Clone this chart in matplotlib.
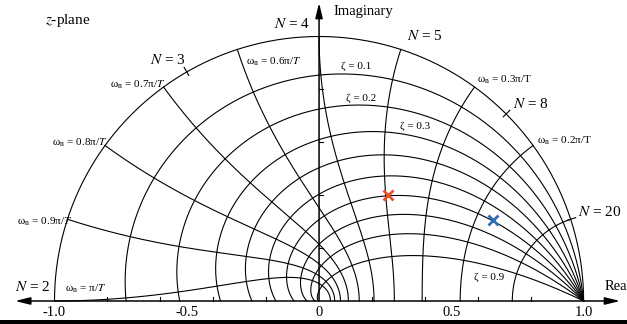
import numpy as np
import matplotlib
matplotlib.use('Agg')
import matplotlib.pyplot as plt
import matplotlib.patches as patches

plt.rcParams['font.family'] = ['Liberation Serif', 'DejaVu Serif']
plt.rcParams['mathtext.fontset'] = 'stix'

# grid values
ZETAS = [0.1, 0.2, 0.3, 0.4, 0.5, 0.6, 0.7, 0.8, 0.9]
WN_FRACS = [0.1, 0.2, 0.3, 0.4, 0.5, 0.6, 0.7, 0.8, 0.9, 1.0]   # wn*T / pi
N_TICKS = [3, 8, 20]          # extra ticks on unit circle (samples per cycle)

# axis tick labels
XTICK_POS = [-1.0, -0.5, 0.0, 0.5, 1.0]
XTICK_LBL = ['-1.0', '-0.5', '0', '0.5', '1.0']
MINOR_X = [-0.8, -0.6, -0.4, -0.2, 0.2, 0.4, 0.6, 0.8]
MINOR_Y = [0.2, 0.4, 0.6, 0.8]

# poles
RED_POLE = (0.261, 0.402)
BLUE_POLE = (0.659, 0.307)

LW = 0.8

fig = plt.figure(figsize=(6.27, 3.24), dpi=100)
ax = fig.add_axes([0, 0, 1, 1])
ax.axis('off')
ax.set_xlim(-1.206, 1.164)
ax.set_ylim(-0.087, 1.138)
ax.set_aspect('equal', adjustable='datalim')

# unit circle (upper half)
th = np.linspace(0, np.pi, 400)
ax.plot(np.cos(th), np.sin(th), color='black', lw=LW)

# constant zeta curves
for z in ZETAS:
    wd = np.linspace(0, np.pi, 400)
    r = np.exp(-z / np.sqrt(1 - z ** 2) * wd)
    ax.plot(r * np.cos(wd), r * np.sin(wd), color='black', lw=LW)

# constant wn curves
for f in WN_FRACS:
    zz = np.linspace(0, 1, 400)
    wn = f * np.pi
    r = np.exp(-zz * wn)
    ang = wn * np.sqrt(1 - zz ** 2)
    ax.plot(r * np.cos(ang), r * np.sin(ang), color='black', lw=LW)

# N ticks on unit circle
for n in N_TICKS:
    a = 2 * np.pi / n
    ax.plot([0.985 * np.cos(a), 1.02 * np.cos(a)], [0.985 * np.sin(a), 1.02 * np.sin(a)],
            color='black', lw=LW)

# axes with arrows
arr = dict(arrowstyle='<|-|>,head_length=0.9,head_width=0.22', color='black', lw=1.1,
           shrinkA=0, shrinkB=0)
ax.annotate('', xy=(1.138, 0), xytext=(-1.149, 0), arrowprops=arr)
arr1 = dict(arr, arrowstyle='-|>,head_length=0.9,head_width=0.22')
ax.annotate('', xy=(0, 1.127), xytext=(0, 0), arrowprops=arr1)

for x in MINOR_X:
    ax.plot([x, x], [0, 0.016], color='black', lw=LW)
for y in MINOR_Y:
    ax.plot([0, 0.016], [y, y], color='black', lw=LW)

for x, s in zip(XTICK_POS, XTICK_LBL):
    ax.text(x, -0.045, s, ha='center', va='center', fontsize=10.5)

# poles
ax.plot(*RED_POLE, marker='x', color='#E8522B', ms=7, mew=2, ls='none')
ax.plot(*BLUE_POLE, marker='x', color='#2F6DB5', ms=7, mew=2, ls='none')

# labels
big = 11
small = 8
ax.text(-1.036, 1.062, '$z$-plane', ha='left', va='center', fontsize=big)
ax.text(0.053, 1.093, 'Imaginary', ha='left', va='center', fontsize=10.5)
ax.text(1.081, 0.053, 'Real', ha='left', va='center', fontsize=10.5)

ax.text(-0.034, 1.047, '$N$ = 4', ha='right', va='center', fontsize=big)
ax.text(-0.573, 0.911, '$N$ = 3', ha='center', va='center', fontsize=big)
ax.text(-1.149, 0.053, '$N$ = 2', ha='left', va='center', fontsize=big)
ax.text(0.333, 1.002, '$N$ = 5', ha='left', va='center', fontsize=big)
ax.text(0.733, 0.745, '$N$ = 8', ha='left', va='center', fontsize=big)
ax.text(0.979, 0.336, '$N$ = 20', ha='left', va='center', fontsize=big)

ax.text(-0.276, 0.904, 'ω$_\\mathrm{n}$ = 0.6π/$T$', ha='left', va='center', fontsize=small)
ax.text(-0.582, 0.817, 'ω$_\\mathrm{n}$ = 0.7π/$T$', ha='right', va='center', fontsize=small)
ax.text(-0.800, 0.597, 'ω$_\\mathrm{n}$ = 0.8π/$T$', ha='right', va='center', fontsize=small)
ax.text(-0.934, 0.299, 'ω$_\\mathrm{n}$ = 0.9π/$T$', ha='right', va='center', fontsize=small)
ax.text(-0.960, 0.045, 'ω$_\\mathrm{n}$ = π/$T$', ha='left', va='center', fontsize=small)
ax.text(0.597, 0.836, 'ω$_\\mathrm{n}$ = 0.3π/T', ha='left', va='center', fontsize=small)
ax.text(0.824, 0.605, 'ω$_\\mathrm{n}$ = 0.2π/T', ha='left', va='center', fontsize=small)

ax.text(0.140, 0.888, 'ζ = 0.1', ha='center', va='center', fontsize=small)
ax.text(0.159, 0.767, 'ζ = 0.2', ha='center', va='center', fontsize=small)
ax.text(0.363, 0.662, 'ζ = 0.3', ha='center', va='center', fontsize=small)
ax.text(0.643, 0.091, 'ζ = 0.9', ha='center', va='center', fontsize=small)

# black rule along the bottom edge
fig.add_artist(patches.Rectangle((0, 0), 1, 4 / 324, transform=fig.transFigure,
                                 facecolor='black', edgecolor='none'))

fig.savefig('out.png', dpi=100)
